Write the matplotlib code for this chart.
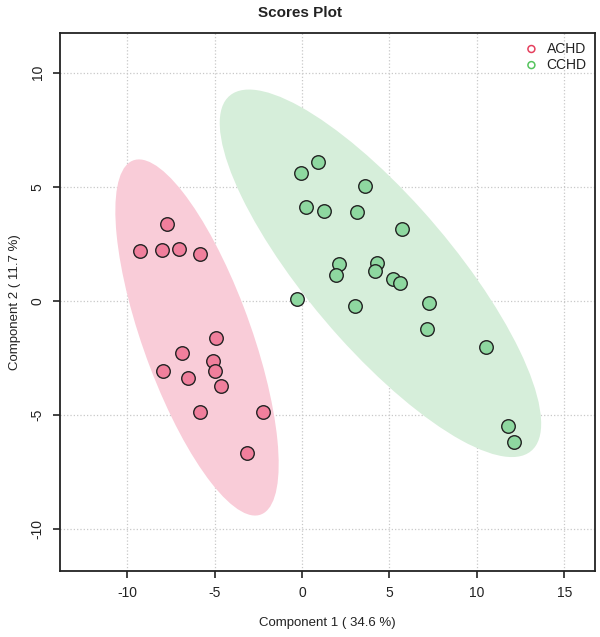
import numpy as np
import matplotlib
matplotlib.use("Agg")
import matplotlib.pyplot as plt
from matplotlib.patches import Ellipse

plt.rcParams['font.family'] = ['Liberation Sans', 'DejaVu Sans']
plt.rcParams['axes.unicode_minus'] = False

# scores
achd_x = [-7.73, -9.29, -8.03, -7.06, -5.84, -4.94, -6.87, -7.94, -6.53,
          -5.08, -4.98, -4.66, -5.84, -2.25, -3.13]
achd_y = [3.36, 2.17, 2.22, 2.25, 2.05, -1.62, -2.29, -3.07, -3.38,
          -2.64, -3.08, -3.74, -4.88, -4.88, -6.69]
cchd_x = [-0.08, 0.89, 3.60, 0.22, 1.25, 3.14, 5.73, 2.13, 1.94, 4.30,
          4.17, 5.22, 5.60, -0.31, 3.04, 7.28, 7.16, 10.52, 11.76, 12.12]
cchd_y = [5.61, 6.07, 5.02, 4.10, 3.95, 3.90, 3.13, 1.62, 1.11, 1.67,
          1.30, 0.96, 0.78, 0.06, -0.22, -0.09, -1.23, -2.04, -5.50, -6.18]
groups = ['ACHD', 'CCHD']
x_label = 'Component 1 ( 34.6 %)'
y_label = 'Component 2 ( 11.7 %)'

fills = ['#F07F9C', '#8ED8A0']
shades = ['#F9CCD8', '#D6EEDA']
legend_cols = ['#E5405E', '#55C45E']


def conf_ellipse(x, y, color):
    # 95% ellipse as in ellipse::ellipse (chi-square, 2 df)
    pts = np.column_stack([x, y])
    cov = np.cov(pts, rowvar=False)
    vals, vecs = np.linalg.eigh(cov)
    order = vals.argsort()[::-1]
    vals, vecs = vals[order], vecs[:, order]
    ang = np.degrees(np.arctan2(vecs[1, 0], vecs[0, 0]))
    t = np.sqrt(5.991)
    return Ellipse(pts.mean(axis=0), 2 * t * np.sqrt(vals[0]),
                   2 * t * np.sqrt(vals[1]), angle=ang,
                   facecolor=color, edgecolor='none', zorder=1)


fig = plt.figure(figsize=(6.0, 6.37), dpi=100)
ax = fig.add_axes([0.1, 0.1036, 0.8917, 0.8441])

data = [(achd_x, achd_y), (cchd_x, cchd_y)]
for i, (xs, ys) in enumerate(data):
    ax.add_patch(conf_ellipse(xs, ys, shades[i]))
for i, (xs, ys) in enumerate(data):
    ax.scatter(xs, ys, s=95, c=fills[i], edgecolors='#222222',
               linewidths=1.0, zorder=3)

ax.set_xlim(-13.85, 16.76)
ax.set_ylim(-11.86, 11.73)
ax.set_xticks([-10, -5, 0, 5, 10, 15])
ax.set_xticklabels(['-10', '-5', '0', '5', '10', '15'])
ax.set_yticks([-10, -5, 0, 5, 10])
ax.set_yticklabels(['-10', '-5', '0', '5', '10'], rotation=90, va='center')
ax.grid(True, linestyle=':', color='#C8C8C8', linewidth=0.9)
ax.set_axisbelow(True)
ax.tick_params(direction='out', length=5, width=1.2, labelsize=10,
               colors='#222222', pad=6)
for sp in ax.spines.values():
    sp.set_linewidth(1.3)
    sp.set_color('#222222')

ax.set_xlabel(x_label, fontsize=9.5, labelpad=12, color='#222222')
ax.set_ylabel(y_label, fontsize=9.5, labelpad=7, color='#222222')
fig.text(0.5, 0.979, 'Scores Plot', ha='center', va='center',
         fontsize=11, fontweight='bold', color='#222222')

handles = [ax.scatter([], [], s=25, facecolors='none', edgecolors=c,
                      linewidths=1.1) for c in legend_cols]
leg = ax.legend(handles, groups, loc='upper right', frameon=False,
                fontsize=10, handletextpad=0.1, borderaxespad=0.2,
                labelspacing=0.15)
for txt in leg.get_texts():
    txt.set_color('#222222')

fig.savefig('out.png', dpi=100)
